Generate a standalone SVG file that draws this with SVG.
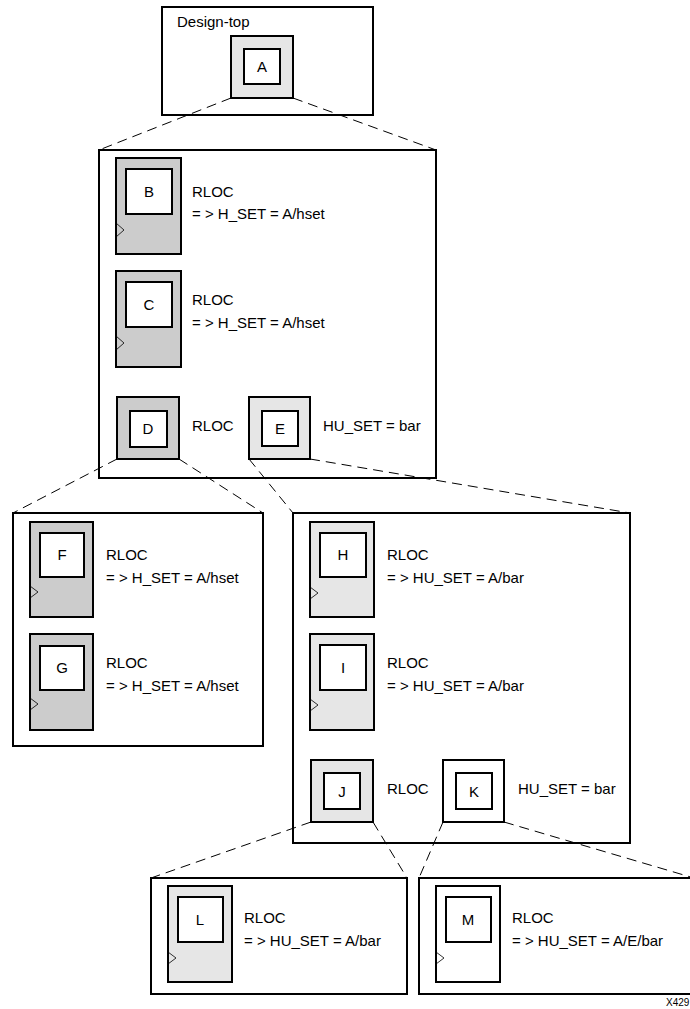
<svg xmlns="http://www.w3.org/2000/svg" width="690" height="1009" viewBox="0 0 690 1009">
<style>
.frame{fill:#fff;stroke:#000;stroke-width:2}
.outer{stroke:#000;stroke-width:2}
.dark{fill:#cccccc}
.light{fill:#e6e6e6}
.white{fill:#fff}
.inner{fill:#fff;stroke:#000;stroke-width:2}
.clk{fill:none;stroke:#000;stroke-width:0.8}
.dash{fill:none;stroke:#000;stroke-width:1;stroke-dasharray:10 6}
text{font-family:"Liberation Sans",Arial,sans-serif;font-size:15px;fill:#000}
.c{text-anchor:middle}
</style>
<rect width="690" height="1009" fill="#fff"/>
<g id="frames">
<rect class="frame" x="162" y="7" width="211" height="108"/>
<rect class="frame" x="99" y="150" width="337" height="328"/>
<rect class="frame" x="13" y="513" width="250" height="233"/>
<rect class="frame" x="293" y="513" width="337" height="330"/>
<rect class="frame" x="151" y="878" width="256" height="116"/>
<rect class="frame" x="419" y="878" width="290" height="116"/>
</g>
<g id="connectors">
<line class="dash" x1="231" y1="98" x2="99" y2="150"/>
<line class="dash" x1="293" y1="98" x2="436" y2="150"/>
<line class="dash" x1="117" y1="459" x2="13" y2="513"/>
<line class="dash" x1="179" y1="459" x2="263" y2="513"/>
<line class="dash" x1="249" y1="459" x2="293" y2="513"/>
<line class="dash" x1="310" y1="459" x2="630" y2="513"/>
<line class="dash" x1="311" y1="822" x2="151" y2="878"/>
<line class="dash" x1="373" y1="822" x2="407" y2="878"/>
<line class="dash" x1="443" y1="822" x2="419" y2="878"/>
<line class="dash" x1="504" y1="822" x2="694" y2="878"/>
</g>
<g id="design-top">
<text x="177" y="27">Design-top</text>
</g>
<g id="A">
<rect class="outer light" x="231" y="36" width="62" height="62"/>
<rect class="inner" x="244" y="49" width="36" height="35"/>
<text class="c" x="262" y="72">A</text>
</g>
<g id="B">
<rect class="outer dark" x="116" y="158" width="65" height="96"/>
<rect class="inner" x="126" y="169" width="46" height="45"/>
<polyline class="clk" points="116,223 124,230 116,237"/>
<text class="c" x="149" y="197">B</text>
<text x="192" y="197">RLOC</text>
<text x="192" y="219">= &gt; H_SET = A/hset</text>
</g>
<g id="C">
<rect class="outer dark" x="116" y="271" width="65" height="96"/>
<rect class="inner" x="126" y="282" width="46" height="45"/>
<polyline class="clk" points="116,336 124,343 116,350"/>
<text class="c" x="149" y="310">C</text>
<text x="192" y="305">RLOC</text>
<text x="192" y="328">= &gt; H_SET = A/hset</text>
</g>
<g id="D">
<rect class="outer dark" x="117" y="397" width="62" height="62"/>
<rect class="inner" x="130" y="411" width="37" height="36"/>
<text class="c" x="148" y="434">D</text>
<text x="192" y="431">RLOC</text>
</g>
<g id="E">
<rect class="outer light" x="249" y="397" width="61" height="62"/>
<rect class="inner" x="262" y="411" width="36" height="35"/>
<text class="c" x="280" y="434">E</text>
<text x="323" y="431">HU_SET = bar</text>
</g>
<g id="F">
<rect class="outer dark" x="30" y="522" width="63" height="95"/>
<rect class="inner" x="40" y="533" width="44" height="44"/>
<polyline class="clk" points="30,586 38,592 30,598"/>
<text class="c" x="62" y="560">F</text>
<text x="106" y="560">RLOC</text>
<text x="106" y="583">= &gt; H_SET = A/hset</text>
</g>
<g id="G">
<rect class="outer dark" x="30" y="634" width="63" height="96"/>
<rect class="inner" x="40" y="646" width="44" height="44"/>
<polyline class="clk" points="30,698 38,704 30,710"/>
<text class="c" x="62" y="673">G</text>
<text x="106" y="668">RLOC</text>
<text x="106" y="691">= &gt; H_SET = A/hset</text>
</g>
<g id="H">
<rect class="outer light" x="310" y="522" width="64" height="95"/>
<rect class="inner" x="320" y="533" width="46" height="44"/>
<polyline class="clk" points="310,587 318,593 310,599"/>
<text class="c" x="343" y="560">H</text>
<text x="387" y="560">RLOC</text>
<text x="387" y="583">= &gt; HU_SET = A/bar</text>
</g>
<g id="I">
<rect class="outer light" x="310" y="634" width="64" height="96"/>
<rect class="inner" x="320" y="645" width="46" height="45"/>
<polyline class="clk" points="310,699 318,705 310,711"/>
<text class="c" x="343" y="673">I</text>
<text x="387" y="668">RLOC</text>
<text x="387" y="691">= &gt; HU_SET = A/bar</text>
</g>
<g id="J">
<rect class="outer light" x="311" y="760" width="62" height="62"/>
<rect class="inner" x="324" y="773" width="36" height="36"/>
<text class="c" x="342" y="797">J</text>
<text x="387" y="794">RLOC</text>
</g>
<g id="K">
<rect class="outer white" x="443" y="760" width="61" height="62"/>
<rect class="inner" x="456" y="773" width="36" height="36"/>
<text class="c" x="474" y="797">K</text>
<text x="518" y="794">HU_SET = bar</text>
</g>
<g id="L">
<rect class="outer light" x="168" y="886" width="64" height="96"/>
<rect class="inner" x="178" y="897" width="45" height="45"/>
<polyline class="clk" points="168,952 176,958 168,964"/>
<text class="c" x="200" y="925">L</text>
<text x="244" y="923">RLOC</text>
<text x="244" y="946">= &gt; HU_SET = A/bar</text>
</g>
<g id="M">
<rect class="outer white" x="436" y="886" width="64" height="96"/>
<rect class="inner" x="446" y="897" width="45" height="45"/>
<polyline class="clk" points="436,952 444,958 436,964"/>
<text class="c" x="468" y="925">M</text>
<text x="512" y="923">RLOC</text>
<text x="512" y="946">= &gt; HU_SET = A/E/bar</text>
</g>
<text x="666" y="1006" style="font-size:10px">X429</text>
</svg>
